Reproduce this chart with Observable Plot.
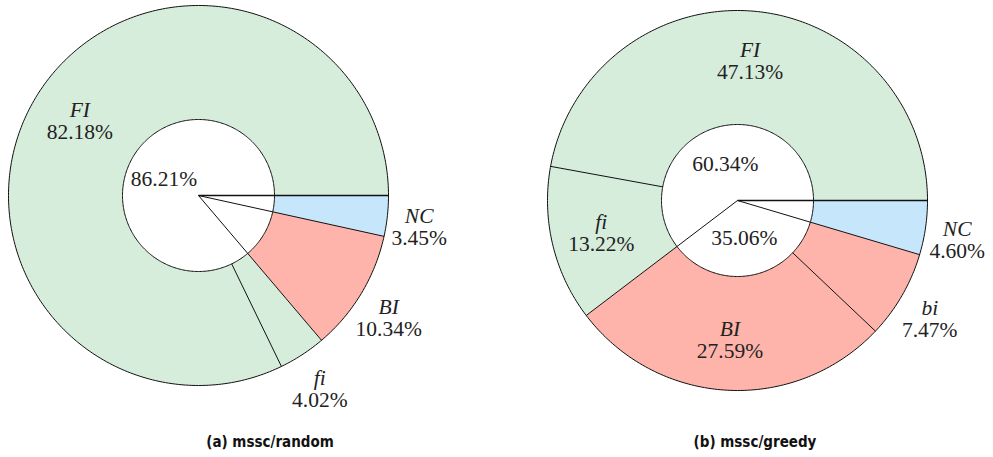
<!DOCTYPE html>
<html>
<head>
<meta charset="utf-8">
<script src="https://cdn.jsdelivr.net/npm/d3@7"></script>
<script src="https://cdn.jsdelivr.net/npm/@observablehq/plot@0.6"></script>
<style>
  html, body { margin: 0; padding: 0; background: #fff; }
  #wrap { width: 993px; }
  #caps { position: relative; width: 993px; height: 32px; font-family: "DejaVu Sans Condensed", "DejaVu Sans", sans-serif; font-weight: bold; font-size: 15px; color: #111; }
  #caps span { position: absolute; top: 8px; transform: translateX(-50%); white-space: nowrap; }
</style>
</head>
<body>
<div id="wrap"></div>
<div id="caps"></div>
<script>
// ---- data ----
const sliceNamesA  = ["NC", "BI", "fi", "FI"];
const sliceValuesA = [3.45, 10.34, 4.02, 82.18];
const sliceGroupsA = ["N", "B", "F", "F"];
const innerGroupsA = ["N", "B", "F"];
const innerValuesA = [3.45, 10.34, 86.21];

const sliceNamesB  = ["NC", "bi", "BI", "fi", "FI"];
const sliceValuesB = [4.60, 7.47, 27.59, 13.22, 47.13];
const sliceGroupsB = ["N", "B", "B", "F", "F"];
const innerGroupsB = ["N", "B", "F"];
const innerValuesB = [4.60, 35.06, 60.34];

const captions = ["(a) mssc/random", "(b) mssc/greedy"];

// ---- styles / layout ----
const colorOf = {NC: "#c6e7fb", BI: "#ffb4ab", bi: "#ffb4ab", FI: "#d6eddc", fi: "#d6eddc"};
const W = 993, H = 425;
const panels = [
  {cx: 198, cy: 195, names: sliceNamesA, values: sliceValuesA, groups: sliceGroupsA, ig: innerGroupsA, iv: innerValuesA},
  {cx: 737, cy: 200, names: sliceNamesB, values: sliceValuesB, groups: sliceGroupsB, ig: innerGroupsB, iv: innerValuesB}
];
const R = 190, r0 = 76;
const captionX = [270, 755];
const FONT = "Liberation Serif";
const FS = 21.5;

const toRad = p => p / 100 * 2 * Math.PI;
const wedgePts = [], circlePts = [], links = [], nameLabels = [], pctLabels = [], innerLabels = [];

panels.forEach((P, pi) => {
  let cum = 0;
  const total = d3.sum(P.values);
  P.names.forEach((name, i) => {
    const a0 = toRad(cum / total * 100), a1 = toRad((cum + P.values[i]) / total * 100);
    const n = Math.max(2, Math.ceil((a1 - a0) / (Math.PI / 180)));
    const id = pi + "-" + i;
    for (let k = 0; k <= n; k++) { const a = a0 + (a1 - a0) * k / n; wedgePts.push({id, color: colorOf[name], x: P.cx + R * Math.cos(a), y: P.cy + R * Math.sin(a)}); }
    for (let k = n; k >= 0; k--) { const a = a0 + (a1 - a0) * k / n; wedgePts.push({id, color: colorOf[name], x: P.cx + r0 * Math.cos(a), y: P.cy + r0 * Math.sin(a)}); }
    const groupStart = i === 0 || P.groups[i - 1] !== P.groups[i];
    const rs = groupStart ? 0 : r0;
    links.push({x1: P.cx + rs * Math.cos(a0), y1: P.cy + rs * Math.sin(a0), x2: P.cx + R * Math.cos(a0), y2: P.cy + R * Math.sin(a0), w: i === 0 ? 1.6 : 1});
    const am = (a0 + a1) / 2;
    const outside = P.values[i] < 12;
    const lr = outside ? 222 : 140;
    const lx = P.cx + lr * Math.cos(am), ly = P.cy + lr * Math.sin(am) + (outside ? 8 : 0);
    nameLabels.push({x: lx, y: ly, text: name});
    pctLabels.push({x: lx, y: ly, text: P.values[i].toFixed(2) + "%"});
    cum += P.values[i];
  });
  let c2 = 0;
  const itotal = d3.sum(P.iv);
  P.ig.forEach((g, j) => {
    const a0 = toRad(c2 / itotal * 100), a1 = toRad((c2 + P.iv[j]) / itotal * 100);
    const members = P.groups.filter(x => x === g).length;
    if (members > 1) {
      const am = (a0 + a1) / 2;
      innerLabels.push({x: P.cx + 38 * Math.cos(am), y: P.cy + 38 * Math.sin(am), text: P.iv[j].toFixed(2) + "%"});
    }
    c2 += P.iv[j];
  });
  [R, r0].forEach((rad, ci) => {
    for (let k = 0; k <= 360; k++) { const a = k * Math.PI / 180; circlePts.push({id: pi + "c" + ci, x: P.cx + rad * Math.cos(a), y: P.cy + rad * Math.sin(a)}); }
  });
});

const textOpts = {x: "x", y: "y", text: "text", fill: "#222", fontFamily: FONT, fontSize: FS};
const chart = Plot.plot({
  width: W, height: H, margin: 0,
  x: {domain: [0, W], axis: null},
  y: {domain: [0, H], reverse: true, axis: null},
  color: {type: "identity"},
  style: {background: "#fff"},
  marks: [
    Plot.line(wedgePts, {x: "x", y: "y", z: "id", fill: "color", stroke: "none", curve: "linear-closed"}),
    Plot.line(circlePts, {x: "x", y: "y", z: "id", stroke: "#111", strokeWidth: 1, fill: "none"}),
    Plot.link(links, {x1: "x1", y1: "y1", x2: "x2", y2: "y2", stroke: "#111", strokeWidth: "w"}),
    Plot.text(nameLabels, {...textOpts, dy: -11, fontStyle: "italic"}),
    Plot.text(pctLabels, {...textOpts, dy: 11}),
    Plot.text(innerLabels, textOpts)
  ]
});
document.getElementById("wrap").appendChild(chart);
const caps = document.getElementById("caps");
captions.forEach((c, i) => { const s = document.createElement("span"); s.textContent = c; s.style.left = captionX[i] + "px"; caps.appendChild(s); });
</script>
</body>
</html>
